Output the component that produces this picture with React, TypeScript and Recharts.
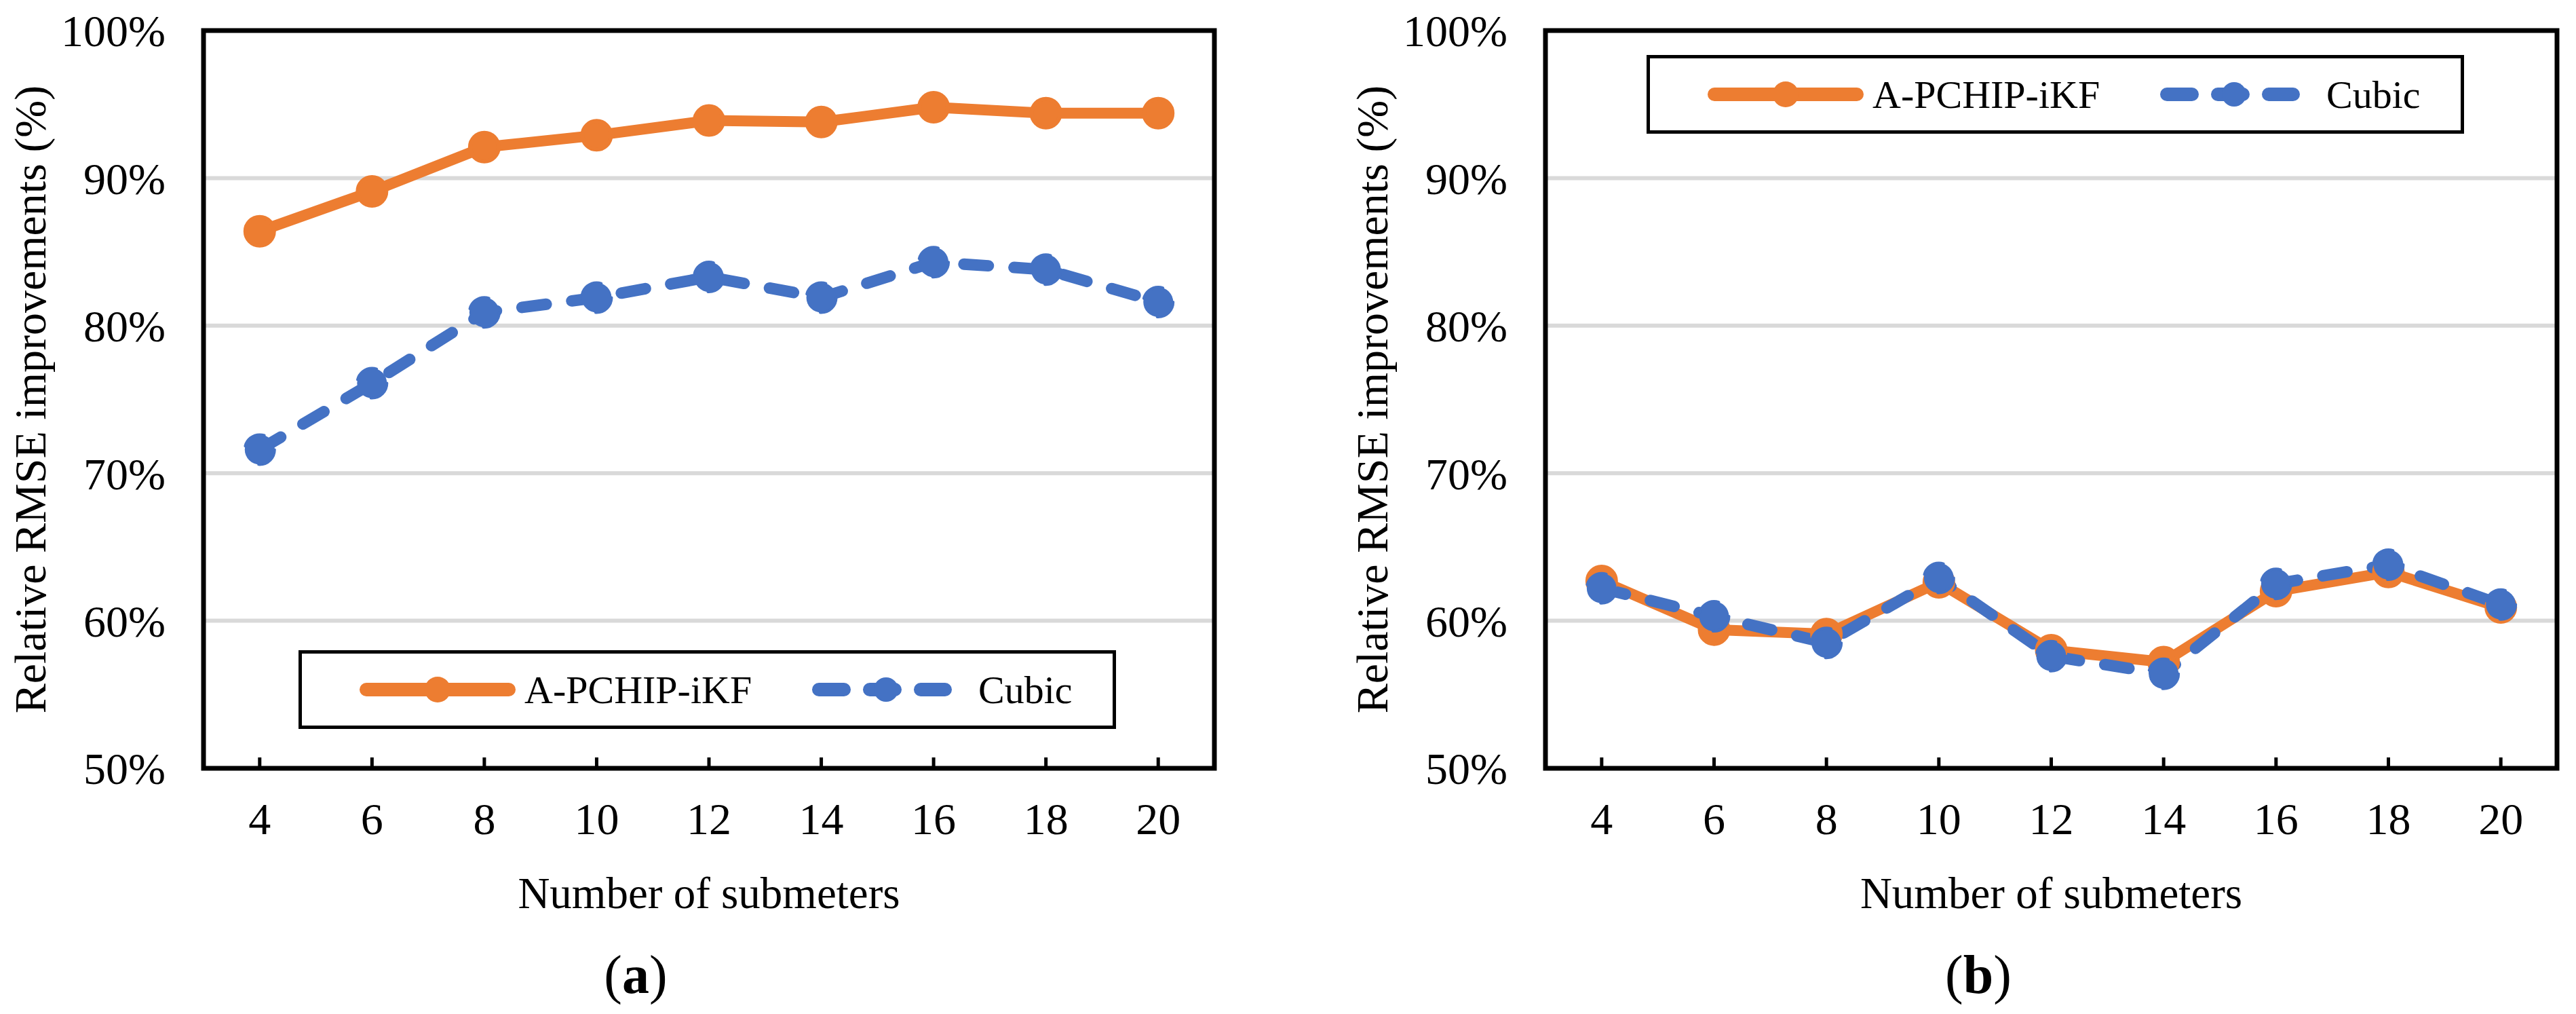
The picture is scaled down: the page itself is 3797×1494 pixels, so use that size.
import React from "react"
import {
    LineChart,
    Line,
    XAxis,
    YAxis,
    CartesianGrid,
    ReferenceArea,
    Legend,
    Label,
} from "recharts"

// number of submeters (x categories)
const submeters = [4, 6, 8, 10, 12, 14, 16, 18, 20]
const yTicks = [50, 60, 70, 80, 90, 100]

// panel (a)
const pchipA = [86.4, 89.1, 92.1, 92.9, 93.9, 93.8, 94.8, 94.4, 94.4]
const cubicA = [71.6, 76.1, 80.9, 81.9, 83.3, 81.9, 84.3, 83.8, 81.6]

// panel (b)
const pchipB = [62.7, 59.4, 59.1, 62.6, 58.0, 57.2, 62.0, 63.3, 60.9]
const cubicB = [62.2, 60.3, 58.5, 62.9, 57.6, 56.4, 62.5, 63.8, 61.1]

const seriesNames = ["A-PCHIP-iKF", "Cubic"]
const yTitle = "Relative RMSE improvements (%)"
const xTitle = "Number of submeters"

const ORANGE = "#ED7D31"
const BLUE = "#4472C4"
const FONT = "'Liberation Serif', 'Times New Roman', serif"
const DASH = "36 38"

const XTick = (props: any) => {
    const { x, y, payload } = props
    return (
        <g>
            <line x1={x} x2={x} y1={y - 16} y2={y} stroke="#000" strokeWidth={5} />
            <text x={x} y={y + 97} textAnchor="middle" fontSize={66} fontFamily={FONT} fill="#000">
                {payload.value}
            </text>
        </g>
    )
}

const YTitle = (props: any) => {
    const { viewBox } = props
    const x = viewBox.x + viewBox.width - 233
    const y = viewBox.y + viewBox.height / 2
    return (
        <text x={x} y={y} transform={`rotate(-90 ${x} ${y})`} textAnchor="middle" fontSize={66} fontFamily={FONT} fill="#000">
            {yTitle}
        </text>
    )
}

const XTitle = (props: any) => {
    const { viewBox, captionX, letter } = props
    const cx = viewBox.x + viewBox.width / 2
    return (
        <g fontFamily={FONT} fill="#000">
            <text x={cx} y={viewBox.y + 206} textAnchor="middle" fontSize={65}>{xTitle}</text>
            <text x={captionX} y={viewBox.y + 331} textAnchor="middle" fontSize={80}>
                (<tspan fontWeight="bold">{letter}</tspan>)
            </text>
        </g>
    )
}

function LegendBox() {
    return (
        <svg width={1205} height={116} style={{ display: "block" }} fontFamily={FONT}>
            <rect x={2.5} y={2.5} width={1200} height={111} fill="#fff" stroke="#000" strokeWidth={5} />
            <line x1={100} x2={310} y1={58} y2={58} stroke={ORANGE} strokeWidth={20} strokeLinecap="round" />
            <circle cx={205} cy={58} r={19} fill={ORANGE} />
            <text x={333} y={58} dominantBaseline="central" fontSize={58} fill="#000">{seriesNames[0]}</text>
            <line x1={767} x2={953} y1={58} y2={58} stroke={BLUE} strokeWidth={20} strokeLinecap="round" strokeDasharray="37 38" />
            <circle cx={866} cy={58} r={18} fill={BLUE} />
            <text x={1002} y={58} dominantBaseline="central" fontSize={58} fill="#000">{seriesNames[1]}</text>
        </svg>
    )
}

type PanelProps = {
    pchip: number[]
    cubic: number[]
    letter: string
    left: number
    width: number
    yAxisWidth: number
    marginRight: number
    legendLeft: number
    legendTop: number
    captionX: number
}

function Panel(p: PanelProps) {
    const data = submeters.map((n, i) => ({ n, pchip: p.pchip[i], cubic: p.cubic[i] }))

    return (
        <div style={{ position: "absolute", left: p.left, top: 0 }}>
            <LineChart
                width={p.width}
                height={1494}
                data={data}
                margin={{ top: 45, right: p.marginRight, bottom: 0, left: 0 }}
            >
                <CartesianGrid vertical={false} stroke="#D9D9D9" strokeWidth={6} />
                <XAxis
                    dataKey="n"
                    scale="band"
                    height={362}
                    interval={0}
                    tickSize={0}
                    tickMargin={0}
                    tickLine={false}
                    axisLine={false}
                    tick={XTick}
                >
                    <Label content={(props: any) => <XTitle {...props} captionX={p.captionX} letter={p.letter} />} />
                </XAxis>
                <YAxis
                    type="number"
                    domain={[50, 100]}
                    ticks={yTicks}
                    width={p.yAxisWidth}
                    tickFormatter={(v) => `${v}%`}
                    axisLine={false}
                    tickLine={false}
                    tickSize={0}
                    tickMargin={56}
                    tick={{ fontSize: 66, fill: "#000", fontFamily: FONT }}
                >
                    <Label content={YTitle} />
                </YAxis>
                {/* plot frame */}
                <ReferenceArea y1={50} y2={100} fill="none" stroke="#000" strokeWidth={7} ifOverflow="visible" />
                <Legend
                    layout="vertical"
                    align="center"
                    verticalAlign="middle"
                    wrapperStyle={{ left: p.legendLeft, top: p.legendTop, width: 1205, height: 116 }}
                    content={() => <LegendBox />}
                />
                <Line
                    dataKey="pchip"
                    name={seriesNames[0]}
                    stroke={ORANGE}
                    strokeWidth={16}
                    strokeLinejoin="round"
                    dot={{ r: 21, fill: ORANGE, stroke: ORANGE, strokeWidth: 6 }}
                    activeDot={false}
                    isAnimationActive={false}
                />
                <Line
                    dataKey="cubic"
                    name={seriesNames[1]}
                    stroke={BLUE}
                    strokeWidth={17}
                    strokeDasharray={DASH}
                    strokeLinecap="round"
                    strokeLinejoin="round"
                    dot={{ r: 22, fill: BLUE, stroke: BLUE, strokeWidth: 4 }}
                    activeDot={false}
                    isAnimationActive={false}
                />
            </LineChart>
        </div>
    )
}

export default function App() {
    return (
        <div style={{ position: "absolute", left: 0, top: 0, width: 3797, height: 1494, background: "#fff", fontFamily: FONT }}>
            <Panel
                pchip={pchipA}
                cubic={cubicA}
                letter="a"
                left={0}
                width={1875}
                yAxisWidth={300}
                marginRight={85}
                legendLeft={440}
                legendTop={958}
                captionX={937}
            />
            <Panel
                pchip={pchipB}
                cubic={cubicB}
                letter="b"
                left={1900}
                width={1897}
                yAxisWidth={378}
                marginRight={28}
                legendLeft={527}
                legendTop={81}
                captionX={1016}
            />
        </div>
    )
}
